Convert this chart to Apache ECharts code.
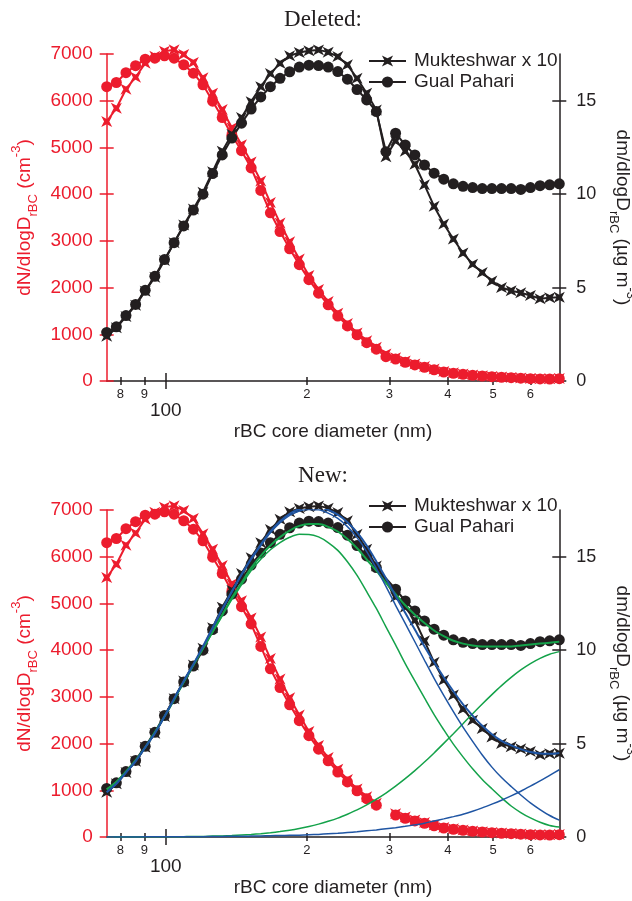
<!DOCTYPE html>
<html><head><meta charset="utf-8">
<script src="https://cdn.jsdelivr.net/npm/echarts@6/dist/echarts.min.js"></script>
<style>html,body{margin:0;padding:0;background:#fff}#c{width:632px;height:901px}</style>
</head><body><div id="c"></div>
<script>
// rBC core diameter bin centres (nm)
const diameters = [74.8,78.43,82.23,86.21,90.39,94.77,99.37,104.18,109.23,114.53,120.08,125.9,132.0,138.4,145.11,152.14,159.52,167.25,175.36,183.86,192.77,202.12,211.92,222.19,232.96,244.25,256.09,268.51,281.53,295.17,309.48,324.49,340.22,356.71,374.0,392.13,411.14,431.07,451.97,473.88,496.86,520.94,546.19,572.67,600.43,629.54,660.06,692.06];
// dN/dlogD (cm^-3), red, left axis
const gpNumber = [6300,6390,6600,6750,6890,6910,6960,6910,6770,6590,6340,5990,5640,5260,4930,4560,4080,3600,3200,2830,2490,2170,1880,1630,1390,1180,990,820,680,520,470,400,343,293,240,190,165,143,122,107,92,80,71,60,50,45,43,50];
const mkNumber = [5553,5839,6246,6503,6803,6950,7060,7090,6990,6820,6490,6160,5810,5420,5060,4690,4280,3820,3380,2980,2610,2260,1960,1700,1450,1230,1030,860,720,580,500,430,365,310,255,205,178,152,130,114,98,86,76,64,54,48,46,54];
// dm/dlogD (ug m^-3), black, right axis
const gpMass = [2.6,2.9,3.5,4.1,4.85,5.6,6.5,7.4,8.3,9.15,10.0,11.1,12.1,13.0,13.8,14.55,15.2,15.75,16.2,16.55,16.8,16.9,16.88,16.8,16.56,16.15,15.6,15.04,14.42,12.27,13.26,12.63,12.1,11.56,11.12,10.8,10.55,10.42,10.35,10.3,10.3,10.3,10.3,10.25,10.35,10.45,10.5,10.55];
const mkMass = [2.4,2.85,3.45,4.05,4.8,5.55,6.45,7.4,8.35,9.2,10.1,11.2,12.3,13.2,14.1,14.95,15.75,16.45,17.0,17.4,17.58,17.67,17.72,17.6,17.36,16.92,16.2,15.4,14.5,12.0,12.85,12.3,11.6,10.5,9.35,8.4,7.6,6.85,6.25,5.8,5.35,5.0,4.83,4.72,4.58,4.4,4.46,4.48];
// index of the bin removed in the "New" panel
const removedBin = 29;
// lognormal fit curves in the "New" panel (right axis)
const mkFitTotal = [2.4,2.85,3.45,4.05,4.8,5.55,6.45,7.4,8.35,9.25,10.2,11.2,12.2,13.15,14.05,14.9,15.65,16.35,16.9,17.3,17.55,17.65,17.65,17.5,17.25,16.85,16.3,15.6,14.75,13.85,12.9,12.0,11.1,10.2,9.35,8.55,7.8,7.1,6.5,5.95,5.5,5.15,4.9,4.7,4.55,4.47,4.45,4.5];
const mkFitMode1 = [2.4,2.85,3.45,4.05,4.79,5.54,6.44,7.39,8.33,9.23,10.18,11.17,12.17,13.11,14.01,14.85,15.59,16.28,16.82,17.21,17.45,17.53,17.51,17.33,17.05,16.61,16.02,15.27,14.37,13.41,12.4,11.43,10.45,9.46,8.49,7.58,6.71,5.88,5.12,4.39,3.74,3.18,2.7,2.25,1.83,1.47,1.15,0.9];
const mkFitMode2 = [0,0,0,0,0.01,0.01,0.01,0.01,0.02,0.02,0.02,0.03,0.03,0.04,0.04,0.05,0.06,0.07,0.08,0.09,0.1,0.12,0.14,0.17,0.2,0.24,0.28,0.33,0.38,0.44,0.5,0.57,0.65,0.74,0.86,0.97,1.09,1.22,1.38,1.56,1.76,1.97,2.2,2.45,2.72,3.0,3.3,3.6];
const gpFitTotal = [2.55,2.95,3.5,4.1,4.8,5.6,6.45,7.35,8.3,9.2,10.1,11.0,11.9,12.8,13.6,14.4,15.05,15.6,16.05,16.4,16.65,16.75,16.75,16.6,16.35,15.95,15.45,14.85,14.25,13.6,13.0,12.4,11.9,11.45,11.05,10.75,10.5,10.35,10.25,10.2,10.2,10.2,10.2,10.25,10.3,10.35,10.4,10.45];
const gpFitMode1 = [2.55,2.95,3.5,4.1,4.79,5.59,6.44,7.34,8.28,9.17,10.07,10.95,11.84,12.72,13.49,14.26,14.87,15.37,15.76,16.04,16.2,16.19,16.06,15.76,15.34,14.73,14.0,13.13,12.23,11.25,10.28,9.28,8.35,7.44,6.55,5.74,4.97,4.29,3.65,3.08,2.58,2.1,1.66,1.31,1.02,0.79,0.62,0.53];
const gpFitMode2 = [0,0,0,0,0.01,0.01,0.01,0.01,0.02,0.03,0.03,0.05,0.06,0.08,0.11,0.14,0.18,0.23,0.29,0.36,0.45,0.56,0.69,0.84,1.01,1.22,1.45,1.72,2.02,2.35,2.72,3.12,3.55,4.01,4.5,5.01,5.53,6.06,6.6,7.12,7.62,8.1,8.54,8.94,9.28,9.56,9.78,9.92];
// axis ticks
const xMinorTicks = [80,90,200,300,400,500,600];
const xMinorLabels = ['8','9','2','3','4','5','6'];
const xMajorTicks = [100];
const xMajorLabels = ['100'];
const rightTicks = [0,5,10,15];
const panelTitles = ['Deleted:','New:'];
const seriesNames = ['Mukteshwar x 10','Gual Pahari'];

const RED = '#ec1c2d', BLACK = '#231f20', BLUE = '#1f55a3', GREEN = '#14a24a';
const X_MIN = 74.8, X_MAX = 692.06;
const LMIN = Math.log10(X_MIN), LMAX = Math.log10(X_MAX);
const STAR = 'path://M0,0 L5,2.6 L10,0 L7.4,5 L10,10 L5,7.4 L0,10 L2.6,5 Z';
const FONT = 'Liberation Sans, Arial, sans-serif';

function pts(arr, skip) {
  return diameters.map((d, i) => [Math.log10(d), (skip && i === removedBin) ? null : arr[i]]);
}
function labelFor(ticks, labels) {
  return v => { let k = 0, b = 1e9; ticks.forEach((t, i) => { const e = Math.abs(Math.log10(t) - v); if (e < b) { b = e; k = i; } }); return labels[k]; };
}

const grids = [], xAxes = [], yAxes = [], series = [], titles = [], legends = [];
const tops = [54, 510];
tops.forEach((top, g) => {
  grids.push({ left: 106.7, top: top, width: 452.6, height: 327, containLabel: false, outerBoundsMode: 'none' });
  const base = { type: 'value', gridIndex: g, min: LMIN, max: LMAX, splitLine: { show: false }, position: 'bottom' };
  const tickStyle = { color: BLACK, width: 1.5 };
  xAxes.push(Object.assign({}, base, {
    axisLine: { show: true, onZero: false, lineStyle: { color: BLACK, width: 1.5 } },
    axisTick: { show: true, customValues: xMinorTicks.map(Math.log10), length: 4, lineStyle: tickStyle },
    axisLabel: { show: true, customValues: xMinorTicks.map(Math.log10), formatter: labelFor(xMinorTicks, xMinorLabels), fontSize: 13, color: BLACK, fontFamily: FONT, margin: 7 }
  }));
  xAxes.push(Object.assign({}, base, {
    axisLine: { show: false, onZero: false },
    axisTick: { show: true, inside: true, customValues: xMinorTicks.map(Math.log10), length: 4, lineStyle: tickStyle },
    axisLabel: { show: false }
  }));
  xAxes.push(Object.assign({}, base, {
    axisLine: { show: false, onZero: false },
    axisTick: { show: true, customValues: xMajorTicks.map(Math.log10), length: 8, lineStyle: tickStyle },
    axisLabel: { show: true, customValues: xMajorTicks.map(Math.log10), formatter: labelFor(xMajorTicks, xMajorLabels), fontSize: 19, color: BLACK, fontFamily: FONT, margin: 20 },
    name: 'rBC core diameter (nm)', nameLocation: 'middle', nameGap: 41,
    nameTextStyle: { fontSize: 19, color: BLACK, fontFamily: FONT }
  }));
  xAxes.push(Object.assign({}, base, {
    axisLine: { show: false, onZero: false },
    axisTick: { show: true, inside: true, customValues: xMajorTicks.map(Math.log10), length: 8, lineStyle: tickStyle },
    axisLabel: { show: false }
  }));

  const leftBase = { type: 'value', gridIndex: g, position: 'left', min: 0, max: 7000, interval: 1000, splitLine: { show: false } };
  yAxes.push(Object.assign({}, leftBase, {
    axisLine: { show: true, onZero: false, lineStyle: { color: RED, width: 1.5 } },
    axisTick: { show: true, length: 7, lineStyle: { color: RED, width: 1.5 } },
    axisLabel: { color: RED, fontSize: 19, fontFamily: FONT, margin: 14, formatter: v => String(v) },
    name: '{a|dN/dlogD}{s|rBC}{a| (cm}{p|-3}{a|)}', nameLocation: 'middle', nameGap: 57,
    nameTextStyle: { color: RED, fontFamily: FONT, fontSize: 19, rich: {
      a: { color: RED, fontSize: 19, fontFamily: FONT, lineHeight: 30, verticalAlign: 'middle' },
      s: { color: RED, fontSize: 13, fontFamily: FONT, lineHeight: 13, verticalAlign: 'bottom' },
      p: { color: RED, fontSize: 13, fontFamily: FONT, lineHeight: 13, verticalAlign: 'top' } } }
  }));
  yAxes.push(Object.assign({}, leftBase, {
    axisLine: { show: false }, axisLabel: { show: false },
    axisTick: { show: true, inside: true, length: 7, lineStyle: { color: RED, width: 1.5 } }
  }));
  const rightBase = { type: 'value', gridIndex: g, position: 'right', min: 0, max: 17.5, splitLine: { show: false } };
  yAxes.push(Object.assign({}, rightBase, {
    axisLine: { show: true, onZero: false, lineStyle: { color: BLACK, width: 1.5 } },
    axisTick: { show: true, customValues: rightTicks, length: 7, lineStyle: { color: BLACK, width: 1.5 } },
    axisLabel: { customValues: rightTicks, color: BLACK, fontSize: 18, fontFamily: FONT, margin: 17, formatter: v => String(v) },
    name: '{a|dm/dlogD}{s|rBC}{a| (µg m}{p|-3}{a|)}', nameLocation: 'middle', nameGap: 38, nameRotate: -90,
    nameTextStyle: { color: BLACK, fontFamily: FONT, fontSize: 19, rich: {
      a: { color: BLACK, fontSize: 19, fontFamily: FONT, lineHeight: 30, verticalAlign: 'middle' },
      s: { color: BLACK, fontSize: 13, fontFamily: FONT, lineHeight: 13, verticalAlign: 'bottom' },
      p: { color: BLACK, fontSize: 13, fontFamily: FONT, lineHeight: 13, verticalAlign: 'top' } } }
  }));
  yAxes.push(Object.assign({}, rightBase, {
    axisLine: { show: false }, axisLabel: { show: false },
    axisTick: { show: true, inside: true, customValues: rightTicks, length: 7, lineStyle: { color: BLACK, width: 1.5 } }
  }));

  const xi = 4 * g, yl = 4 * g, yr = 4 * g + 2;
  const skip = g === 1;
  const dataSeries = (name, arr, color, sym, yIdx, connect, z) => ({
    type: 'line', name: name, xAxisIndex: xi, yAxisIndex: yIdx, data: pts(arr, skip),
    symbol: sym, symbolSize: 11, showSymbol: true, clip: false, connectNulls: connect,
    lineStyle: { color: color, width: 2 }, itemStyle: { color: color }, z: z, animation: false
  });
  series.push(dataSeries('mkN' + g, mkNumber, RED, STAR, yl, false, 2));
  series.push(dataSeries('gpN' + g, gpNumber, RED, 'circle', yl, false, 3));
  series.push(dataSeries(seriesNames[0], mkMass, BLACK, STAR, yr, true, 4));
  series.push(dataSeries(seriesNames[1], gpMass, BLACK, 'circle', yr, true, 3));
  if (g === 1) {
    const fit = (arr, color, w) => ({
      type: 'line', name: 'fit', xAxisIndex: xi, yAxisIndex: yr, data: pts(arr, false),
      symbol: 'none', smooth: 0.3, clip: true, lineStyle: { color: color, width: w }, z: 6, animation: false, silent: true
    });
    series.push(fit(gpFitMode1, GREEN, 1.5), fit(gpFitMode2, GREEN, 1.5), fit(gpFitTotal, GREEN, 2));
    series.push(fit(mkFitMode1, BLUE, 1.5), fit(mkFitMode2, BLUE, 1.5), fit(mkFitTotal, BLUE, 2));
  }
  titles.push({ text: panelTitles[g], left: 318, textAlign: 'center', top: g === 0 ? 3 : 459,
    textStyle: { fontFamily: 'Liberation Serif, Times New Roman, serif', fontSize: 23, fontWeight: 'normal', color: BLACK } });
  legends.push({ data: seriesNames, orient: 'vertical', left: 368, top: g === 0 ? 51.5 : 496.5, padding: 0,
    itemWidth: 37, itemHeight: 14, itemGap: 2, selectedMode: false,
    textStyle: { fontSize: 19, fontFamily: FONT, color: BLACK, lineHeight: 19, padding: [0, 0, 0, 3] } });
});

const chart = echarts.init(document.getElementById('c'), null, { renderer: 'canvas' });
chart.setOption({ animation: false, backgroundColor: '#fff', grid: grids, xAxis: xAxes, yAxis: yAxes, series: series, title: titles, legend: legends });
</script></body></html>
